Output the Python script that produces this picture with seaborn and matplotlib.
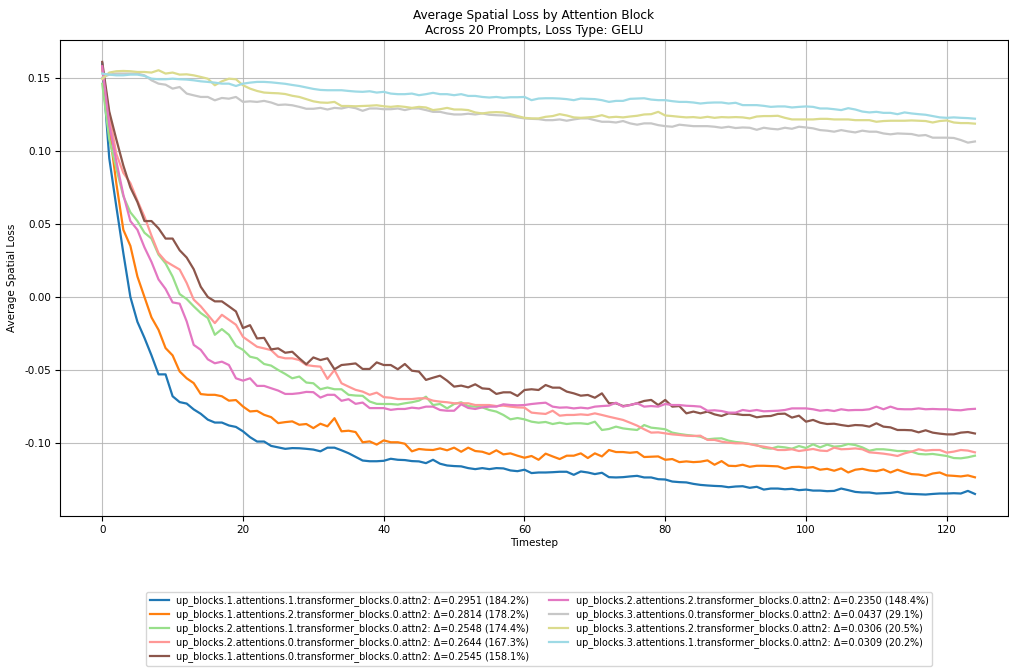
import numpy as np
import pandas as pd
import matplotlib
matplotlib.use("Agg")
import matplotlib.pyplot as plt
import seaborn as sns

timesteps = list(range(125))

labels = [
    "up_blocks.1.attentions.1.transformer_blocks.0.attn2: Δ=0.2951 (184.2%)",
    "up_blocks.1.attentions.2.transformer_blocks.0.attn2: Δ=0.2814 (178.2%)",
    "up_blocks.2.attentions.1.transformer_blocks.0.attn2: Δ=0.2548 (174.4%)",
    "up_blocks.2.attentions.0.transformer_blocks.0.attn2: Δ=0.2644 (167.3%)",
    "up_blocks.1.attentions.0.transformer_blocks.0.attn2: Δ=0.2545 (158.1%)",
    "up_blocks.2.attentions.2.transformer_blocks.0.attn2: Δ=0.2350 (148.4%)",
    "up_blocks.3.attentions.0.transformer_blocks.0.attn2: Δ=0.0437 (29.1%)",
    "up_blocks.3.attentions.2.transformer_blocks.0.attn2: Δ=0.0306 (20.5%)",
    "up_blocks.3.attentions.1.transformer_blocks.0.attn2: Δ=0.0309 (20.2%)",
]

colors = ["#1f77b4", "#ff7f0e", "#98df8a", "#ff9896", "#8c564b",
          "#e377c2", "#c7c7c7", "#dbdb8d", "#9edae5"]

ub1_att1 = [0.160, 0.095, 0.062, 0.030, 0.000, -0.017, -0.028, -0.040, -0.053, -0.053,
            -0.068, -0.072, -0.073, -0.077, -0.080, -0.084, -0.086, -0.086, -0.088, -0.089,
            -0.092, -0.096, -0.099, -0.099, -0.102, -0.103, -0.104, -0.1035, -0.1036, -0.104,
            -0.1045, -0.1057, -0.1032, -0.1032, -0.105, -0.107, -0.1095, -0.112, -0.1125, -0.1125,
            -0.1122, -0.1108, -0.1115, -0.1117, -0.1124, -0.1126, -0.1138, -0.1115, -0.1142, -0.1154,
            -0.1158, -0.116, -0.1172, -0.1179, -0.1172, -0.1179, -0.1172, -0.1174, -0.1188, -0.1193,
            -0.1183, -0.1206, -0.1202, -0.1202, -0.120, -0.1197, -0.1197, -0.1218, -0.1195, -0.1202,
            -0.1213, -0.1204, -0.1234, -0.1236, -0.1234, -0.1229, -0.1225, -0.1236, -0.1236, -0.1248,
            -0.125, -0.1264, -0.1268, -0.127, -0.128, -0.1287, -0.1291, -0.1294, -0.1296, -0.1303,
            -0.1298, -0.1296, -0.1307, -0.130, -0.1319, -0.1312, -0.1312, -0.1317, -0.1314, -0.1323,
            -0.1319, -0.1326, -0.1326, -0.133, -0.1328, -0.1312, -0.1323, -0.1335, -0.1339, -0.1339,
            -0.1346, -0.1344, -0.1342, -0.1335, -0.1346, -0.1349, -0.1351, -0.1353, -0.1349, -0.1346,
            -0.1346, -0.1344, -0.1346, -0.1328, -0.1349]

ub1_att2 = [0.158, 0.115, 0.078, 0.046, 0.035, 0.014, 0.000, -0.014, -0.0225, -0.035,
            -0.040, -0.051, -0.0557, -0.059, -0.0665, -0.067, -0.067, -0.068, -0.071, -0.0706,
            -0.075, -0.0784, -0.078, -0.0807, -0.0823, -0.0864, -0.0857, -0.0852, -0.0875, -0.087,
            -0.0898, -0.0868, -0.0886, -0.083, -0.092, -0.0916, -0.0925, -0.0995, -0.0989, -0.1011,
            -0.0982, -0.0995, -0.0995, -0.1005, -0.1057, -0.1041, -0.1046, -0.1048, -0.1037, -0.105,
            -0.1032, -0.106, -0.1032, -0.1055, -0.106, -0.1076, -0.105, -0.1078, -0.1071, -0.1087,
            -0.1101, -0.1089, -0.1115, -0.1073, -0.1092, -0.111, -0.1087, -0.1087, -0.1071, -0.1103,
            -0.1071, -0.1092, -0.1048, -0.1062, -0.1062, -0.1067, -0.1062, -0.1096, -0.1094, -0.1092,
            -0.1115, -0.111, -0.1131, -0.1126, -0.1131, -0.1128, -0.1119, -0.1149, -0.1124, -0.1156,
            -0.1158, -0.1149, -0.1163, -0.1156, -0.1156, -0.1158, -0.116, -0.1177, -0.1165, -0.1163,
            -0.117, -0.1165, -0.1183, -0.1177, -0.119, -0.1174, -0.1202, -0.1183, -0.1177, -0.1188,
            -0.1193, -0.1181, -0.1202, -0.1183, -0.120, -0.1213, -0.1216, -0.1225, -0.1209, -0.1202,
            -0.1222, -0.1225, -0.1229, -0.1222, -0.1235]

ub2_att1 = [0.146, 0.108, 0.088, 0.069, 0.058, 0.052, 0.044, 0.040, 0.029, 0.023,
            0.014, 0.002, -0.0014, -0.0064, -0.011, -0.0144, -0.0259, -0.022, -0.0259, -0.0335,
            -0.0362, -0.0409, -0.042, -0.0459, -0.047, -0.050, -0.0527, -0.0557, -0.0545, -0.0586,
            -0.0591, -0.0632, -0.062, -0.0632, -0.0632, -0.067, -0.0675, -0.0677, -0.0716, -0.0732,
            -0.0733, -0.0733, -0.0737, -0.0728, -0.0721, -0.071, -0.0683, -0.074, -0.0733, -0.0763,
            -0.0733, -0.0721, -0.0747, -0.0751, -0.0756, -0.0774, -0.0785, -0.0808, -0.0838, -0.0829,
            -0.0838, -0.0854, -0.0861, -0.0856, -0.087, -0.0861, -0.087, -0.0865, -0.0865, -0.087,
            -0.0854, -0.0911, -0.0904, -0.0888, -0.090, -0.0906, -0.0911, -0.0877, -0.0895, -0.090,
            -0.0906, -0.0929, -0.0938, -0.0945, -0.095, -0.0957, -0.0975, -0.097, -0.0968, -0.0984,
            -0.0993, -0.0998, -0.1007, -0.1014, -0.1034, -0.1039, -0.1025, -0.103, -0.1039, -0.1021,
            -0.1034, -0.1009, -0.103, -0.1011, -0.1025, -0.1021, -0.1007, -0.1014, -0.103, -0.1053,
            -0.1043, -0.1043, -0.1048, -0.1055, -0.1055, -0.1059, -0.1075, -0.1078, -0.1075, -0.1082,
            -0.1089, -0.1103, -0.1105, -0.1098, -0.1087]

ub2_att0 = [0.158, 0.125, 0.098, 0.085, 0.078, 0.066, 0.055, 0.042, 0.030, 0.0245,
            0.0216, 0.0188, 0.0096, -0.0018, -0.0064, -0.0122, -0.0179, -0.0122, -0.0156, -0.019,
            -0.0273, -0.0307, -0.0341, -0.0352, -0.0364, -0.0409, -0.042, -0.042, -0.0432, -0.0466,
            -0.0473, -0.0477, -0.0561, -0.050, -0.0591, -0.0614, -0.0636, -0.0648, -0.067, -0.0655,
            -0.0686, -0.069, -0.0699, -0.0699, -0.0699, -0.0694, -0.0694, -0.071, -0.0717, -0.0721,
            -0.0728, -0.0728, -0.0728, -0.074, -0.074, -0.074, -0.0747, -0.0744, -0.0751, -0.0756,
            -0.0758, -0.0792, -0.0797, -0.0801, -0.0779, -0.0813, -0.0808, -0.0808, -0.0804, -0.0808,
            -0.0797, -0.0808, -0.082, -0.0831, -0.0842, -0.0861, -0.0881, -0.0906, -0.0929, -0.0927,
            -0.0934, -0.0941, -0.0945, -0.095, -0.0952, -0.095, -0.0979, -0.0979, -0.0991, -0.0998,
            -0.1002, -0.1002, -0.1007, -0.1018, -0.1025, -0.1034, -0.1048, -0.1048, -0.1043, -0.1055,
            -0.1048, -0.1041, -0.1052, -0.1055, -0.1032, -0.1043, -0.1041, -0.1037, -0.1043, -0.1064,
            -0.1068, -0.1073, -0.108, -0.1089, -0.1071, -0.1059, -0.1043, -0.1052, -0.1048, -0.1048,
            -0.1066, -0.1059, -0.1048, -0.1052, -0.1064]

ub1_att0 = [0.161, 0.127, 0.108, 0.090, 0.075, 0.065, 0.052, 0.052, 0.047, 0.040,
            0.040, 0.032, 0.027, 0.019, 0.007, 0.000, -0.003, -0.003, -0.0064, -0.0099,
            -0.0213, -0.0193, -0.0284, -0.028, -0.0359, -0.0352, -0.0382, -0.0375, -0.042, -0.0461,
            -0.0414, -0.0432, -0.042, -0.0495, -0.0466, -0.0461, -0.0455, -0.0493, -0.0493, -0.0448,
            -0.0466, -0.0466, -0.0495, -0.0459, -0.0505, -0.0511, -0.0568, -0.0553, -0.0539, -0.0573,
            -0.0614, -0.0607, -0.0619, -0.0598, -0.0626, -0.063, -0.0664, -0.0653, -0.0653, -0.0678,
            -0.0637, -0.0632, -0.0637, -0.0603, -0.0621, -0.0621, -0.0648, -0.066, -0.0676, -0.0671,
            -0.069, -0.066, -0.0728, -0.0728, -0.0747, -0.074, -0.0728, -0.0712, -0.0705, -0.074,
            -0.0705, -0.0751, -0.0747, -0.0797, -0.0785, -0.0797, -0.0785, -0.0804, -0.0815, -0.0797,
            -0.0801, -0.0808, -0.0808, -0.0824, -0.0817, -0.0815, -0.0801, -0.0799, -0.0826, -0.0813,
            -0.0854, -0.0842, -0.0861, -0.087, -0.0868, -0.0877, -0.0884, -0.0877, -0.0879, -0.0888,
            -0.0865, -0.0888, -0.0893, -0.0911, -0.0911, -0.0913, -0.0927, -0.0913, -0.0929, -0.0936,
            -0.0941, -0.0941, -0.0929, -0.0925, -0.0935]

ub2_att2 = [0.158, 0.118, 0.093, 0.070, 0.052, 0.046, 0.034, 0.024, 0.012, 0.0055,
            -0.0037, -0.0046, -0.0167, -0.0328, -0.0362, -0.0427, -0.0454, -0.0443, -0.0466, -0.0557,
            -0.0573, -0.0557, -0.0609, -0.0609, -0.0625, -0.0641, -0.0664, -0.0664, -0.0659, -0.065,
            -0.0652, -0.0689, -0.067, -0.067, -0.0711, -0.070, -0.0732, -0.0723, -0.0761, -0.0761,
            -0.0761, -0.0773, -0.0767, -0.0767, -0.0758, -0.0763, -0.0751, -0.0751, -0.0774, -0.0779,
            -0.0779, -0.0735, -0.076, -0.0767, -0.0756, -0.0751, -0.0751, -0.0735, -0.074, -0.0742,
            -0.074, -0.0733, -0.0728, -0.0724, -0.0751, -0.0758, -0.0756, -0.0763, -0.0758, -0.0763,
            -0.0751, -0.0747, -0.0744, -0.0724, -0.0751, -0.074, -0.0728, -0.0751, -0.0747, -0.0751,
            -0.0733, -0.074, -0.074, -0.0745, -0.0747, -0.0751, -0.0779, -0.0776, -0.0781, -0.0792,
            -0.0792, -0.0774, -0.0781, -0.0774, -0.0783, -0.0781, -0.0779, -0.0774, -0.0763, -0.0763,
            -0.0763, -0.0769, -0.0779, -0.0774, -0.0781, -0.0769, -0.0776, -0.0774, -0.0774, -0.0769,
            -0.0751, -0.0769, -0.0751, -0.0767, -0.0769, -0.0769, -0.0763, -0.0769, -0.0767, -0.0769,
            -0.0769, -0.0774, -0.0776, -0.0769, -0.0766]

ub3_att0 = [0.1502, 0.1523, 0.153, 0.153, 0.153, 0.153, 0.1518, 0.1484, 0.1461, 0.1454,
            0.1427, 0.1438, 0.1393, 0.1381, 0.137, 0.137, 0.1347, 0.1363, 0.1358, 0.137,
            0.1336, 0.134, 0.1336, 0.1343, 0.1332, 0.1315, 0.1318, 0.1313, 0.1302, 0.1289,
            0.1289, 0.1295, 0.1284, 0.1295, 0.1291, 0.1302, 0.1293, 0.1275, 0.1291, 0.1291,
            0.1286, 0.1286, 0.1291, 0.128, 0.1291, 0.1291, 0.128, 0.1268, 0.1268, 0.1257,
            0.125, 0.125, 0.1255, 0.125, 0.1257, 0.1248, 0.1245, 0.1243, 0.1239, 0.123,
            0.1223, 0.122, 0.1218, 0.1211, 0.1211, 0.1216, 0.1207, 0.1216, 0.1223, 0.1223,
            0.1211, 0.120, 0.120, 0.1195, 0.1205, 0.1189, 0.118, 0.1189, 0.1189, 0.1177,
            0.117, 0.1166, 0.118, 0.1175, 0.117, 0.117, 0.117, 0.1166, 0.1159, 0.1166,
            0.1157, 0.1161, 0.1159, 0.1145, 0.1159, 0.1152, 0.1148, 0.1159, 0.1152, 0.1166,
            0.1161, 0.1155, 0.1143, 0.1139, 0.1132, 0.1143, 0.1134, 0.1127, 0.1139, 0.1132,
            0.1132, 0.112, 0.1114, 0.112, 0.1118, 0.1116, 0.1105, 0.1109, 0.1091, 0.1091,
            0.1091, 0.1089, 0.1075, 0.1057, 0.1065]

ub3_att2 = [0.1493, 0.1537, 0.1546, 0.1548, 0.1546, 0.1541, 0.1541, 0.1537, 0.1553, 0.153,
            0.1537, 0.1523, 0.1525, 0.1518, 0.1507, 0.1495, 0.145, 0.1477, 0.1495, 0.1491,
            0.145, 0.1427, 0.1411, 0.140, 0.1397, 0.1395, 0.139, 0.1378, 0.137, 0.1355,
            0.134, 0.1332, 0.133, 0.1336, 0.1308, 0.1308, 0.1306, 0.1308, 0.131, 0.1313,
            0.1306, 0.1302, 0.1307, 0.1302, 0.1295, 0.1302, 0.1298, 0.128, 0.1286, 0.1295,
            0.1284, 0.1284, 0.128, 0.1264, 0.1257, 0.1264, 0.1266, 0.1264, 0.1252, 0.1239,
            0.1227, 0.1223, 0.1223, 0.1234, 0.1239, 0.1252, 0.1243, 0.123, 0.1227, 0.123,
            0.1234, 0.1245, 0.123, 0.1234, 0.123, 0.1236, 0.1241, 0.125, 0.1252, 0.1268,
            0.1243, 0.1239, 0.1234, 0.123, 0.1232, 0.1227, 0.1234, 0.1227, 0.1232, 0.123,
            0.1232, 0.123, 0.1223, 0.1236, 0.1239, 0.1239, 0.1241, 0.1227, 0.1216, 0.1216,
            0.1216, 0.1216, 0.122, 0.122, 0.1216, 0.1216, 0.1216, 0.1211, 0.1211, 0.1211,
            0.120, 0.1205, 0.1207, 0.1207, 0.1207, 0.1209, 0.1207, 0.1205, 0.1195, 0.1205,
            0.1209, 0.1195, 0.1191, 0.1191, 0.1187]

ub3_att1 = [0.153, 0.1523, 0.1518, 0.1518, 0.1523, 0.1523, 0.1514, 0.1495, 0.1491, 0.1491,
            0.1495, 0.1491, 0.1489, 0.1484, 0.1477, 0.1473, 0.1468, 0.1461, 0.1461, 0.1445,
            0.1461, 0.1468, 0.1473, 0.1473, 0.147, 0.1465, 0.146, 0.1452, 0.1445, 0.1435,
            0.1425, 0.1418, 0.1416, 0.1416, 0.1416, 0.1411, 0.1407, 0.1405, 0.1409, 0.140,
            0.1405, 0.1393, 0.1389, 0.1389, 0.1393, 0.1382, 0.1389, 0.1398, 0.1389, 0.1389,
            0.1382, 0.1389, 0.1377, 0.1377, 0.137, 0.1366, 0.137, 0.1364, 0.1368, 0.1368,
            0.137, 0.1348, 0.1359, 0.1361, 0.1361, 0.1359, 0.1355, 0.1348, 0.1359, 0.1357,
            0.1355, 0.1348, 0.1336, 0.1343, 0.1343, 0.1357, 0.1359, 0.1361, 0.1352, 0.1348,
            0.1348, 0.1341, 0.1336, 0.1336, 0.1332, 0.1325, 0.133, 0.1332, 0.1332, 0.1325,
            0.133, 0.1314, 0.1314, 0.1314, 0.1309, 0.1302, 0.1305, 0.1305, 0.1298, 0.1302,
            0.1305, 0.1302, 0.1291, 0.1291, 0.1286, 0.128, 0.1293, 0.1284, 0.127, 0.1264,
            0.1268, 0.1261, 0.1261, 0.1252, 0.1264, 0.1257, 0.1252, 0.1248, 0.1239, 0.123,
            0.1227, 0.123, 0.1227, 0.1225, 0.1221]

series = [ub1_att1, ub1_att2, ub2_att1, ub2_att0, ub1_att0,
          ub2_att2, ub3_att0, ub3_att2, ub3_att1]

x_ticks = [0, 20, 40, 60, 80, 100, 120]
y_ticks = [-0.10, -0.05, 0.00, 0.05, 0.10, 0.15]

plt.rcParams["font.family"] = ["DejaVu Sans"]

W, H = 1009, 668
fig = plt.figure(figsize=(W / 100, H / 100), dpi=100)
ax = fig.add_axes([60 / W, 1 - 516 / H, (1008 - 60) / W, (516 - 40) / H])

for vals, lab, col in zip(series, labels, colors):
    sns.lineplot(x=timesteps, y=vals, ax=ax, color=col, label=lab, linewidth=1.6)

ax.set_xlim(-6.0, 128.7)
ax.set_ylim(-0.1500, 0.1760)
ax.set_xticks(x_ticks)
ax.set_yticks(y_ticks)
ax.set_yticklabels([f"{v:.2f}" for v in y_ticks])
ax.tick_params(labelsize=7.5, pad=3)
ax.grid(True, color="#b0b0b0", linewidth=0.8, alpha=0.8)
ax.set_axisbelow(True)
ax.set_xlabel("Timestep", fontsize=7.5, labelpad=2)
ax.set_ylabel("Average Spatial Loss", fontsize=7.5, labelpad=5)
ax.set_title("Average Spatial Loss by Attention Block\nAcross 20 Prompts, Loss Type: GELU",
             fontsize=8.7, pad=4)

ax.legend(loc="upper center", bbox_to_anchor=(539 / W, 1 - 592 / H),
          bbox_transform=fig.transFigure, ncol=2, fontsize=6.9, frameon=True,
          labelspacing=0.32, borderaxespad=0.0, borderpad=0.35)

fig.savefig("out.png", dpi=100)
